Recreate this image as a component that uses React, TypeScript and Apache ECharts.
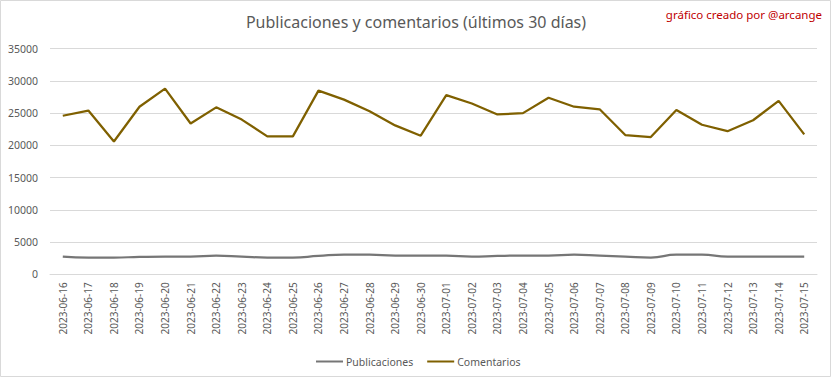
import React, { useEffect, useRef } from "react";
import * as echarts from "echarts";

const categories = [
  "2023-06-16", "2023-06-17", "2023-06-18", "2023-06-19", "2023-06-20", "2023-06-21",
  "2023-06-22", "2023-06-23", "2023-06-24", "2023-06-25", "2023-06-26", "2023-06-27",
  "2023-06-28", "2023-06-29", "2023-06-30", "2023-07-01", "2023-07-02", "2023-07-03",
  "2023-07-04", "2023-07-05", "2023-07-06", "2023-07-07", "2023-07-08", "2023-07-09",
  "2023-07-10", "2023-07-11", "2023-07-12", "2023-07-13", "2023-07-14", "2023-07-15",
];

const publicaciones = [
  2750, 2600, 2600, 2700, 2750, 2750, 2900, 2750, 2600, 2600, 2850, 3050,
  3050, 2900, 2900, 2900, 2750, 2850, 2900, 2900, 3050, 2900, 2750, 2600,
  3050, 3050, 2750, 2750, 2750, 2750,
];

const comentarios = [
  24600, 25400, 20600, 26000, 28800, 23400, 25900, 24000, 21400, 21400, 28500, 27100,
  25300, 23100, 21500, 27800, 26500, 24800, 25000, 27400, 26000, 25600, 21600, 21300,
  25500, 23200, 22200, 23900, 26900, 21700,
];

const title = "Publicaciones y comentarios (últimos 30 días)";
const credit = "gráfico creado por @arcange";

export default function App() {
  const ref = useRef<HTMLDivElement>(null);
  useEffect(() => {
    if (!ref.current) return;
    const chart = echarts.init(ref.current, undefined, { renderer: "svg" });
    const font = "Noto Sans";
    chart.setOption({
      animation: false,
      backgroundColor: "#ffffff",
      textStyle: { fontFamily: font },
      title: {
        text: title,
        left: "center",
        top: 9,
        textStyle: { fontFamily: font, fontSize: 16, fontWeight: "normal", color: "#595959" },
      },
      graphic: [
        {
          type: "rect",
          shape: { x: 0.5, y: 0.5, width: 830, height: 376 },
          style: { fill: "none", stroke: "#d9d9d9", lineWidth: 1 },
          silent: true,
        },
        {
          type: "text",
          right: 10,
          top: 8,
          style: { text: credit, fill: "#c00000", font: `11.5px "${font}"` },
        },
      ],
      legend: {
        left: 311,
        top: 351,
        itemWidth: 27,
        itemHeight: 2,
        itemGap: 14,
        icon: "rect",
        textStyle: { fontFamily: font, fontSize: 10.5, color: "#595959", padding: [0, 0, 0, -2] },
        data: ["Publicaciones", "Comentarios"],
      },
      grid: { left: 50, right: 15, top: 48.7, bottom: 103.7, containLabel: false },
      xAxis: {
        type: "category",
        data: categories,
        boundaryGap: true,
        axisLine: { lineStyle: { color: "#d9d9d9" } },
        axisTick: { show: false },
        axisLabel: {
          rotate: 90,
          interval: 0,
          margin: 8,
          fontSize: 10,
          color: "#595959",
          fontFamily: font,
        },
      },
      yAxis: {
        type: "value",
        min: 0,
        max: 35000,
        interval: 5000,
        axisLine: { show: false },
        axisTick: { show: false },
        splitLine: { lineStyle: { color: "#d9d9d9" } },
        axisLabel: {
          margin: 12,
          fontSize: 10.5,
          color: "#595959",
          fontFamily: font,
          formatter: (v: number) => String(v),
        },
      },
      series: [
        {
          name: "Publicaciones",
          type: "line",
          data: publicaciones,
          smooth: true,
          symbol: "none",
          lineStyle: { color: "#767676", width: 2.25 },
          itemStyle: { color: "#767676" },
        },
        {
          name: "Comentarios",
          type: "line",
          data: comentarios,
          symbol: "none",
          lineStyle: { color: "#7f6000", width: 2.25 },
          itemStyle: { color: "#7f6000" },
        },
      ],
    });
    return () => chart.dispose();
  }, []);
  return (
    <div
      ref={ref}
      style={{ position: "absolute", left: 0, top: 0, width: 832, height: 378 }}
    />
  );
}
